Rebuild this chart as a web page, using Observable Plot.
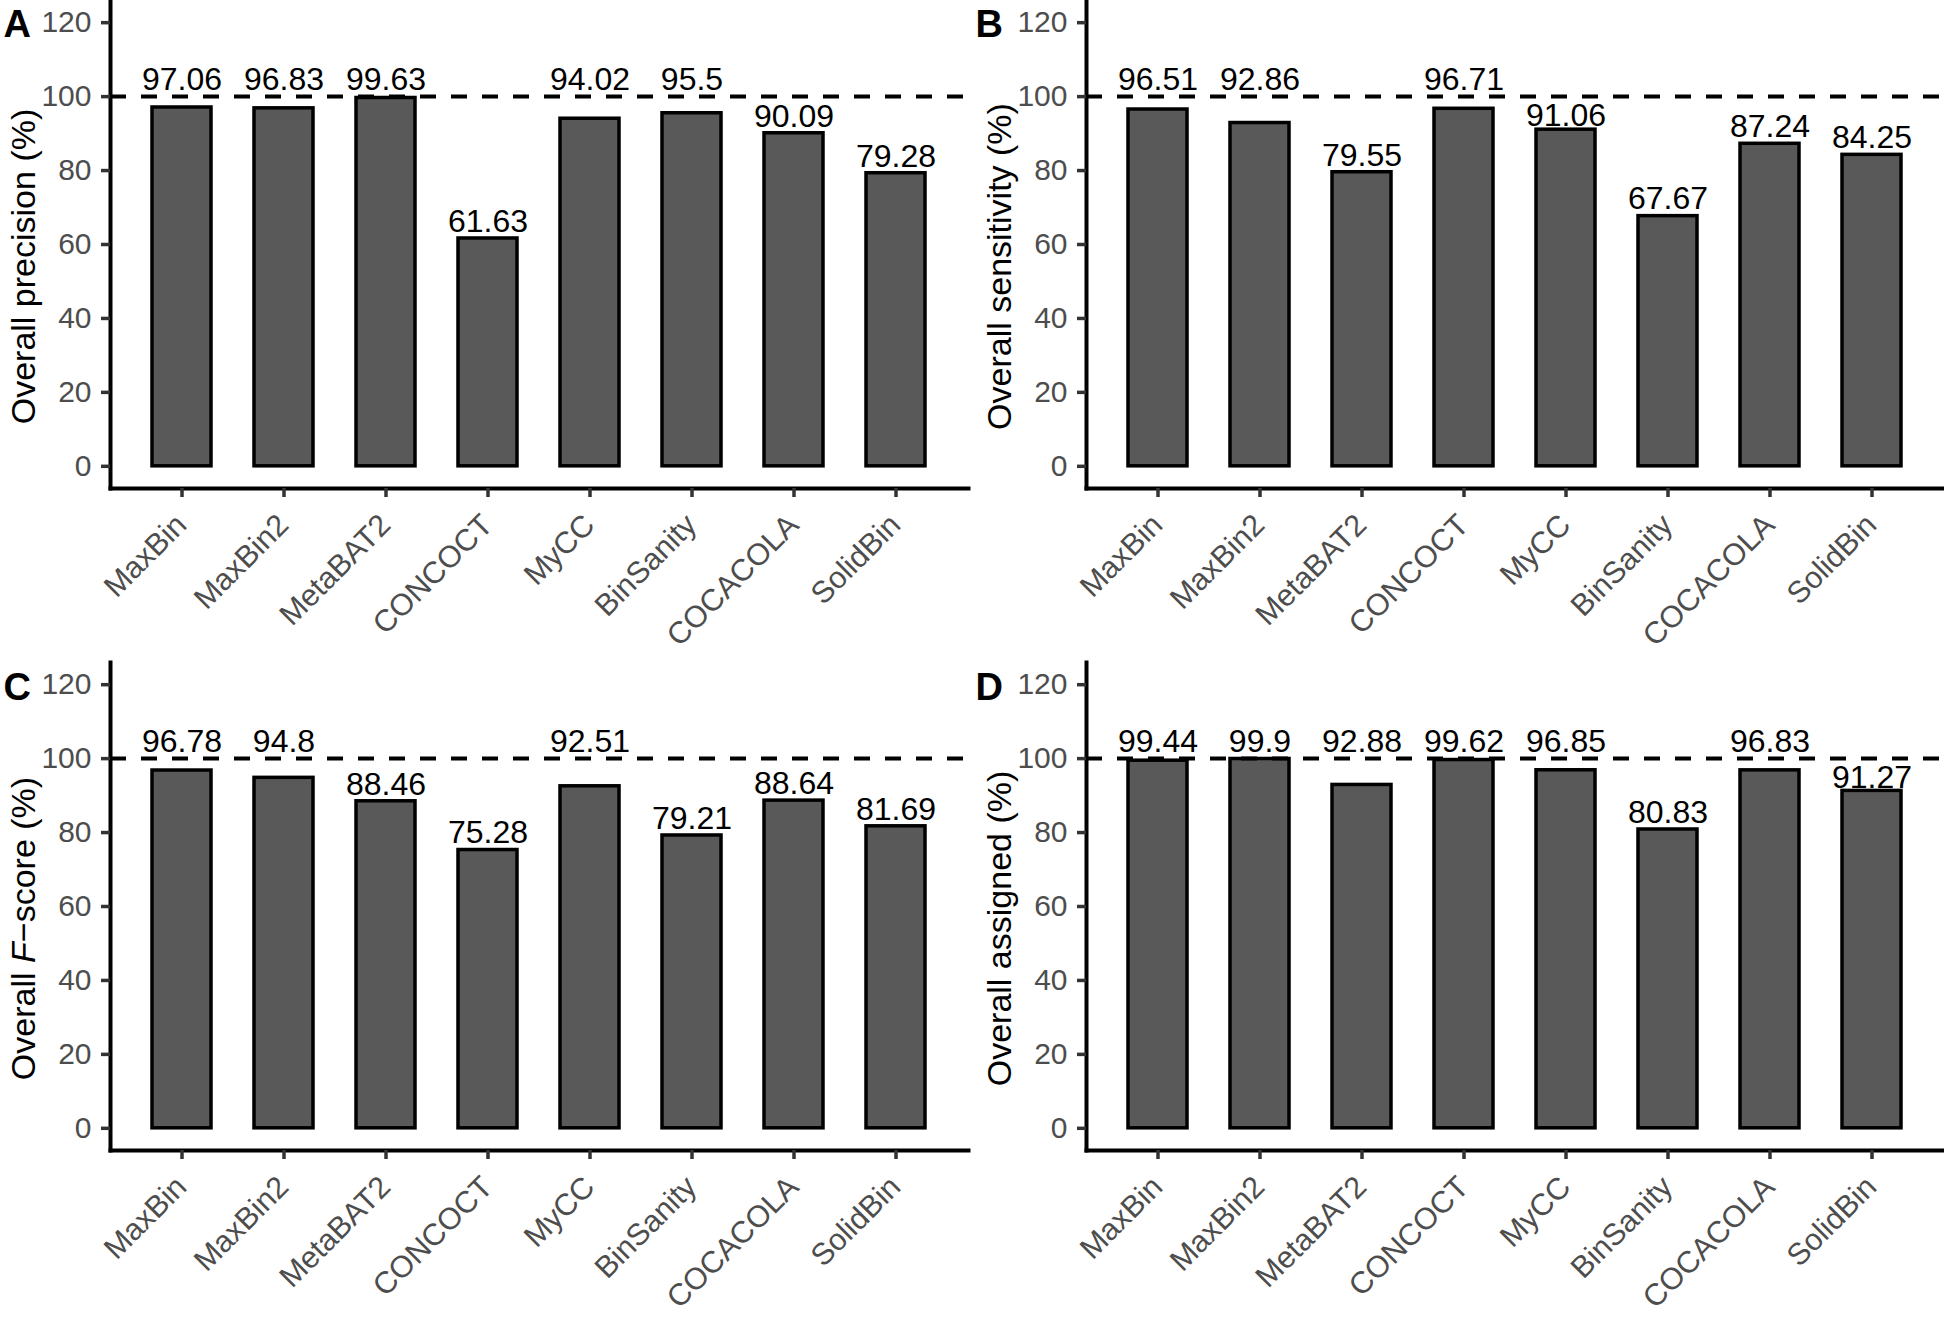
<!DOCTYPE html>
<html><head><meta charset="utf-8">
<script src="https://cdn.jsdelivr.net/npm/d3@7"></script>
<script src="https://cdn.jsdelivr.net/npm/@observablehq/plot@0.6"></script>
<style>
html,body{margin:0;padding:0;background:#fff;}
#root{position:relative;width:1944px;height:1319px;overflow:hidden;}
.panel{position:absolute;}
</style></head><body><div id="root"></div>
<script>
const methods = ["MaxBin","MaxBin2","MetaBAT2","CONCOCT","MyCC","BinSanity","COCACOLA","SolidBin"];
const precision   = [97.06, 96.83, 99.63, 61.63, 94.02, 95.5, 90.09, 79.28];
const sensitivity = [96.51, 92.86, 79.55, 96.71, 91.06, 67.67, 87.24, 84.25];
const fscore      = [96.78, 94.8, 88.46, 75.28, 92.51, 79.21, 88.64, 81.69];
const assigned    = [99.44, 99.9, 92.88, 99.62, 96.85, 80.83, 96.83, 91.27];
const yTicks = [0, 20, 40, 60, 80, 100, 120];
const refLine = 100;

const panels = [
  {letter: "A", title: "Overall precision (%)", values: precision, col: 0, row: 0},
  {letter: "B", title: "Overall sensitivity (%)", values: sensitivity, col: 1, row: 0},
  {letter: "C", title: "Overall F\u2212score (%)", values: fscore, col: 0, row: 1},
  {letter: "D", title: "Overall assigned (%)", values: assigned, col: 1, row: 1}
];

const FONT = '"Liberation Sans", Arial, Helvetica, sans-serif';

// keep value labels clear of the dashed reference line (repel-like placement)
function labelY(v) {
  const gap = 1.8, cap = 6.1, below = refLine - 1.8, above = refLine + 1.7;
  const b = v + gap;
  if (b + cap <= below) return b;
  if (below - cap >= v + 0.8) return below - cap;
  return above;
}

const root = document.getElementById("root");
for (const p of panels) {
  const data = methods.map((m, i) => ({method: m, value: p.values[i]}));
  const top = p.row === 0;
  const ml = p.col === 0 ? 110 : 114;
  const mr = p.col === 0 ? 4 : 1;
  const chart = Plot.plot({
    width: 972,
    height: top ? 660 : 659,
    marginLeft: ml, marginRight: mr,
    marginTop: top ? 0 : 2,
    marginBottom: top ? 172 : 169,
    style: {fontFamily: FONT, background: "white", color: "black", overflow: "visible"},
    x: {domain: methods, padding: 0.4, axis: null},
    y: {domain: [-6, 126], axis: null},
    marks: [
      Plot.barY(data, {x: "method", y: "value", fill: "#595959", stroke: "black", strokeWidth: 3.5, insetLeft: 1, insetRight: 1}),
      Plot.ruleY([refLine], {stroke: "black", strokeWidth: 4, strokeDasharray: "16,15"}),
      Plot.text(data, {x: "method", y: d => labelY(d.value), text: d => String(d.value), lineAnchor: "bottom", fontSize: 32, fill: "black"}),
      Plot.frame({anchor: "left", stroke: "black", strokeWidth: 4}),
      Plot.frame({anchor: "bottom", stroke: "black", strokeWidth: 4}),
      Plot.axisY({ticks: yTicks, tickSize: 9, tickPadding: 10, fontSize: 30, stroke: "#333", color: "#4d4d4d", strokeWidth: 3.5, label: null}),
      Plot.axisX({tickSize: 9, tickFormat: () => "", stroke: "#333", strokeWidth: 3.5, label: null}),
      Plot.text(methods, {x: d => d, frameAnchor: "bottom", rotate: -45, textAnchor: "end", lineAnchor: "top", dx: -9, dy: 23, fontSize: 30.5, fill: "#4d4d4d"}),
      Plot.text([p.title], {frameAnchor: "left", rotate: -90, textAnchor: "middle", lineAnchor: "middle", dx: -86, dy: 22, fontSize: 34, fill: "black"}),
      Plot.text([p.letter], {frameAnchor: "top-left", dx: -(ml - 3), dy: top ? 10 : 11, textAnchor: "start", lineAnchor: "top", fontSize: 38, fontWeight: "bold", fill: "black"})
    ]
  });
  // italic F in the F-score title
  d3.select(chart).selectAll("text").filter(function() { return this.textContent === "Overall F\u2212score (%)"; })
    .each(function() {
      const t = d3.select(this);
      t.text(null);
      t.append("tspan").text("Overall ");
      t.append("tspan").attr("font-style", "italic").text("F");
      t.append("tspan").text("\u2212score (%)");
    });
  const div = document.createElement("div");
  div.className = "panel";
  div.style.left = (p.col * 972) + "px";
  div.style.top = (top ? 0 : 660) + "px";
  div.appendChild(chart);
  root.appendChild(div);
}
</script>
</body></html>
